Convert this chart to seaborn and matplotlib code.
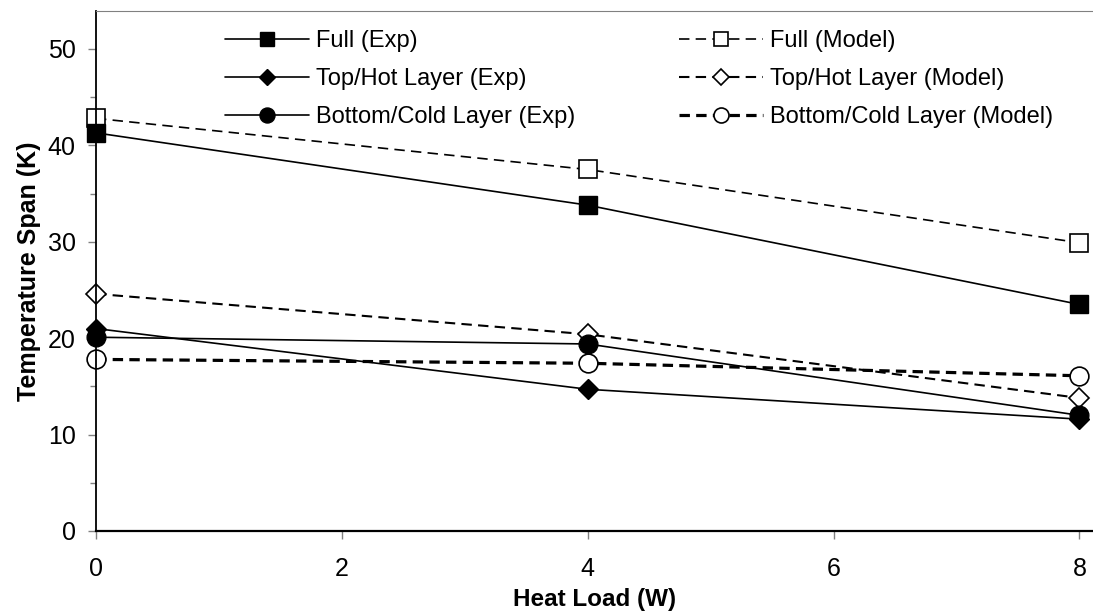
import matplotlib.pyplot as plt
import seaborn as sns

# values
heat_load = [0, 4, 8]
full_exp = [41.3, 33.8, 23.5]
top_exp = [21.0, 14.7, 11.6]
bottom_exp = [20.1, 19.4, 12.0]
full_model = [42.8, 37.5, 29.9]
top_model = [24.6, 20.4, 13.8]
bottom_model = [17.8, 17.4, 16.1]

labels_exp = ["Full (Exp)", "Top/Hot Layer (Exp)", "Bottom/Cold Layer (Exp)"]
labels_model = ["Full (Model)", "Top/Hot Layer (Model)", "Bottom/Cold Layer (Model)"]

sns.set_style("ticks")
plt.rcParams["font.family"] = ["Liberation Sans", "DejaVu Sans"]
plt.rcParams["lines.scale_dashes"] = False
plt.rcParams["text.color"] = "black"
plt.rcParams["axes.labelcolor"] = "black"

fig = plt.figure(figsize=(10.93, 6.13), dpi=100)
ax = fig.add_axes([96 / 1093, 1 - 531 / 613, 997 / 1093, 520 / 613])

# model curves first so the filled markers end up on top
model_styles = [("s", 13, 1.2), ("D", 10.5, 1.5), ("o", 13.5, 2.3)]
for vals, lab, (m, ms, lw) in zip([full_model, top_model, bottom_model], labels_model, model_styles):
    sns.lineplot(x=heat_load, y=vals, ax=ax, color="black", linewidth=lw,
                 linestyle=(0, (7.5, 4.5)), marker=m, markersize=ms,
                 markerfacecolor="white", markeredgecolor="black",
                 markeredgewidth=1.2, label=lab, clip_on=False)

exp_styles = [("s", 13), ("D", 10.5), ("o", 13.5)]
for vals, lab, (m, ms) in zip([full_exp, top_exp, bottom_exp], labels_exp, exp_styles):
    sns.lineplot(x=heat_load, y=vals, ax=ax, color="black", linewidth=1.2,
                 linestyle="-", marker=m, markersize=ms,
                 markerfacecolor="black", markeredgecolor="black",
                 markeredgewidth=1.0, label=lab, clip_on=False)

# legend: Exp in the left column, Model in the right
handles, labels = ax.get_legend_handles_labels()
hmap = dict(zip(labels, handles))
order = labels_exp + labels_model
ax.legend([hmap[l] for l in order], order, ncol=2, loc="upper left",
          bbox_to_anchor=(213 / 1093, 1 - 18 / 613), bbox_transform=fig.transFigure,
          frameon=False, fontsize=17, handlelength=3.56, handletextpad=0.3,
          columnspacing=4.4, labelspacing=0.68, borderpad=0, markerscale=0.8)

ax.set_xlim(0, 8.11)
ax.set_ylim(0, 53.94)
ax.set_xticks([0, 2, 4, 6, 8])
ax.set_yticks(range(0, 51, 10))
ax.set_yticks(range(5, 50, 10), minor=True)
ax.tick_params(axis="both", which="both", direction="out", color="#808080",
               width=1.0, labelsize=18, labelcolor="black", bottom=True, left=True)
ax.tick_params(axis="both", which="major", length=5.5)
ax.tick_params(axis="y", which="minor", length=4.5)
ax.tick_params(axis="x", pad=13)
ax.tick_params(axis="y", pad=9)

ax.spines["right"].set_visible(False)
ax.spines["top"].set_color("#808080")
ax.spines["top"].set_linewidth(0.8)
ax.spines["left"].set_color("black")
ax.spines["left"].set_linewidth(1.3)
ax.spines["bottom"].set_color("black")
ax.spines["bottom"].set_linewidth(1.6)

ax.set_xlabel("Heat Load (W)", fontsize=17.5, fontweight="bold", labelpad=5)
ax.set_ylabel("Temperature Span (K)", fontsize=18, fontweight="bold", labelpad=5)

fig.savefig("out.png", dpi=100)
